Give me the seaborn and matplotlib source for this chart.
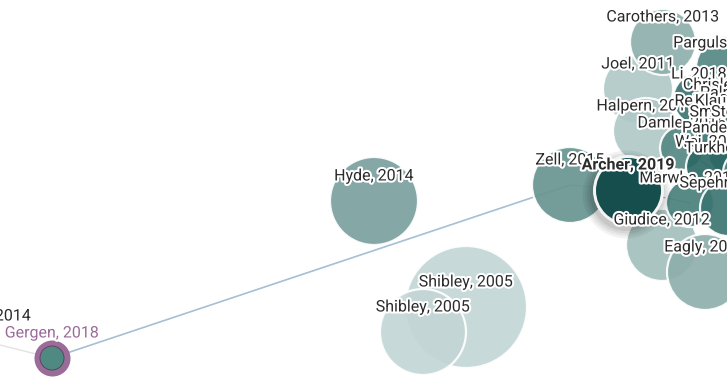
import numpy as np
import pandas as pd
import matplotlib
matplotlib.use("Agg")
import matplotlib.pyplot as plt
import matplotlib.patheffects as pe
from matplotlib.colors import LinearSegmentedColormap
import seaborn as sns

sns.set_theme(style="white")
plt.rcParams['font.family'] = ['Roboto', 'DejaVu Sans']

# papers in the graph (canvas pixel coords), drawn in this order
labels = ["Shibley, 2005", "Shibley, 2005", "Hyde, 2014", "Zell, 2015",
          "Joel, 2011", "Carothers, 2013", "Halpern, 2011", "Giudice, 2012",
          "Eagly, 2013", "Pargulski, 2016", "Li, 2018", "Damle, 2016",
          "Chrisler, 2017", "Palmer, 2017", "Reilly, 2018", "Klausen, 2018",
          "Smith, 2017", "Stewart, 2018", "Pandey, 2018", "Wei, 2019",
          "Turkheimer, 2016", "Marwha, 2017", "Sepehri, 2018"]
px = [466, 423, 374, 570, 638, 663, 646, 662, 705, 728, 699, 682,
      732, 747, 715, 745, 732, 760, 730, 710, 747, 690, 728]
py = [307, 332, 201, 185, 89, 42, 131, 245, 272, 68, 99, 148,
      110, 118, 126, 126, 137, 137, 153, 167, 173, 203, 208]
radius = [61, 43, 44, 38, 35, 33, 33, 36, 38, 32, 26, 22,
          24, 26, 22, 24, 22, 26, 22, 24, 24, 24, 28]
year = [2005, 2005, 2014, 2015, 2011, 2013, 2011, 2012, 2013, 2016, 2018, 2016,
        2017, 2017, 2018, 2018, 2017, 2018, 2018, 2019, 2016, 2017, 2018]

# highlighted papers
sel_label, sel_x, sel_y, sel_r = "Archer, 2019", 628, 190, 34
org_label, org_x, org_y, org_r = "Gergen, 2018", 52, 358, 15

# partial label of a paper lying off to the left
off_label, off_x, off_y = "2014", -20, 340

edges = [("Gergen, 2018", "Zell, 2015"), ("Shibley, 2005", "Shibley, 2005"),
         ("Zell, 2015", "Archer, 2019"), ("Archer, 2019", "Marwha, 2017"),
         ("Li, 2018", "Reilly, 2018"), ("Damle, 2016", "Wei, 2019")]

df = pd.DataFrame({"label": labels, "x": px, "y": py, "r": radius, "year": year})

dpi = 100
fig = plt.figure(figsize=(7.27, 3.84), dpi=dpi)
ax = fig.add_axes([0, 0, 1, 1])
ax.set_xlim(0, 727)
ax.set_ylim(384, 0)
ax.axis("off")

pt = 72 / dpi
cmap = LinearSegmentedColormap.from_list("cp", [
    (0.0, "#c3d6d5"), (0.4, "#b0c9c8"), (0.467, "#a3bfbd"), (0.533, "#8eafac"),
    (0.6, "#7ba09d"), (0.667, "#689591"), (0.733, "#568985"), (0.8, "#497f7b"),
    (0.867, "#3b7571"), (0.933, "#2d6865"), (1.0, "#1f5b58")])


def pos(name):
    if name == sel_label:
        return sel_x, sel_y
    if name == org_label:
        return org_x, org_y
    i = labels.index(name)
    return px[i], py[i]


# edges
ax.plot([off_x, org_x], [off_y, org_y], color="#e2e2e2", lw=1, zorder=1)
for a, b in edges:
    if a == b:
        xa, ya, xb, yb = px[0], py[0], px[1], py[1]
        col, lw = "#b9cccc", 0.8
    else:
        (xa, ya), (xb, yb) = pos(a), pos(b)
        col, lw = ("#a6bfd3", 1.2) if a == org_label else ("#9fb9c2", 0.8)
    ax.plot([xa, xb], [ya, yb], color=col, lw=lw, zorder=1)

# paper bubbles
sizes = (2 * df["r"] * pt) ** 2
sns.scatterplot(data=df, x="x", y="y", hue="year", palette=cmap,
                hue_norm=(2005, 2020), s=sizes, alpha=0.92,
                edgecolor=(1, 1, 1, 0.35), linewidth=1.6, legend=False,
                ax=ax, zorder=2)

# selected paper with shadow
for k, a in enumerate([0.05, 0.05, 0.06, 0.07]):
    ax.scatter([sel_x - 2], [sel_y + 4], s=(2 * (sel_r + 10 - 2.5 * k) * pt) ** 2,
               color="black", alpha=a, linewidth=0, zorder=3)
ax.scatter([sel_x], [sel_y], s=(2 * sel_r * pt) ** 2, color="#164d4d",
           edgecolor="#f4f4f4", linewidth=3 * pt, zorder=3)

# origin paper
ax.scatter([org_x], [org_y], s=(2 * org_r * pt) ** 2, color="#4f8a82",
           edgecolor="#9b6b99", linewidth=6 * pt, zorder=3)
ax.scatter([org_x], [org_y], s=(2 * 12 * pt) ** 2, facecolor="none",
           edgecolor="#5a3d58", linewidth=0.6, zorder=3)

halo = [pe.withStroke(linewidth=3, foreground="white")]
fs = 11.5
for lab, x, y in zip(labels, px, py):
    ax.text(x, y - 25, lab, ha="center", va="center", fontsize=fs,
            color="#2b2b2b", path_effects=halo, zorder=5)
ax.text(sel_x, sel_y - 25, sel_label, ha="center", va="center", fontsize=fs,
        fontweight="bold", color="#2b2b2b", path_effects=halo, zorder=6)
ax.text(org_x, org_y - 25, org_label, ha="center", va="center", fontsize=fs,
        color="#9b6a9a", path_effects=halo, zorder=6)
ax.text(31, off_y - 24, off_label, ha="right", va="center", fontsize=fs,
        color="#2b2b2b", path_effects=halo, zorder=5)

fig.savefig("out.png", dpi=dpi)
